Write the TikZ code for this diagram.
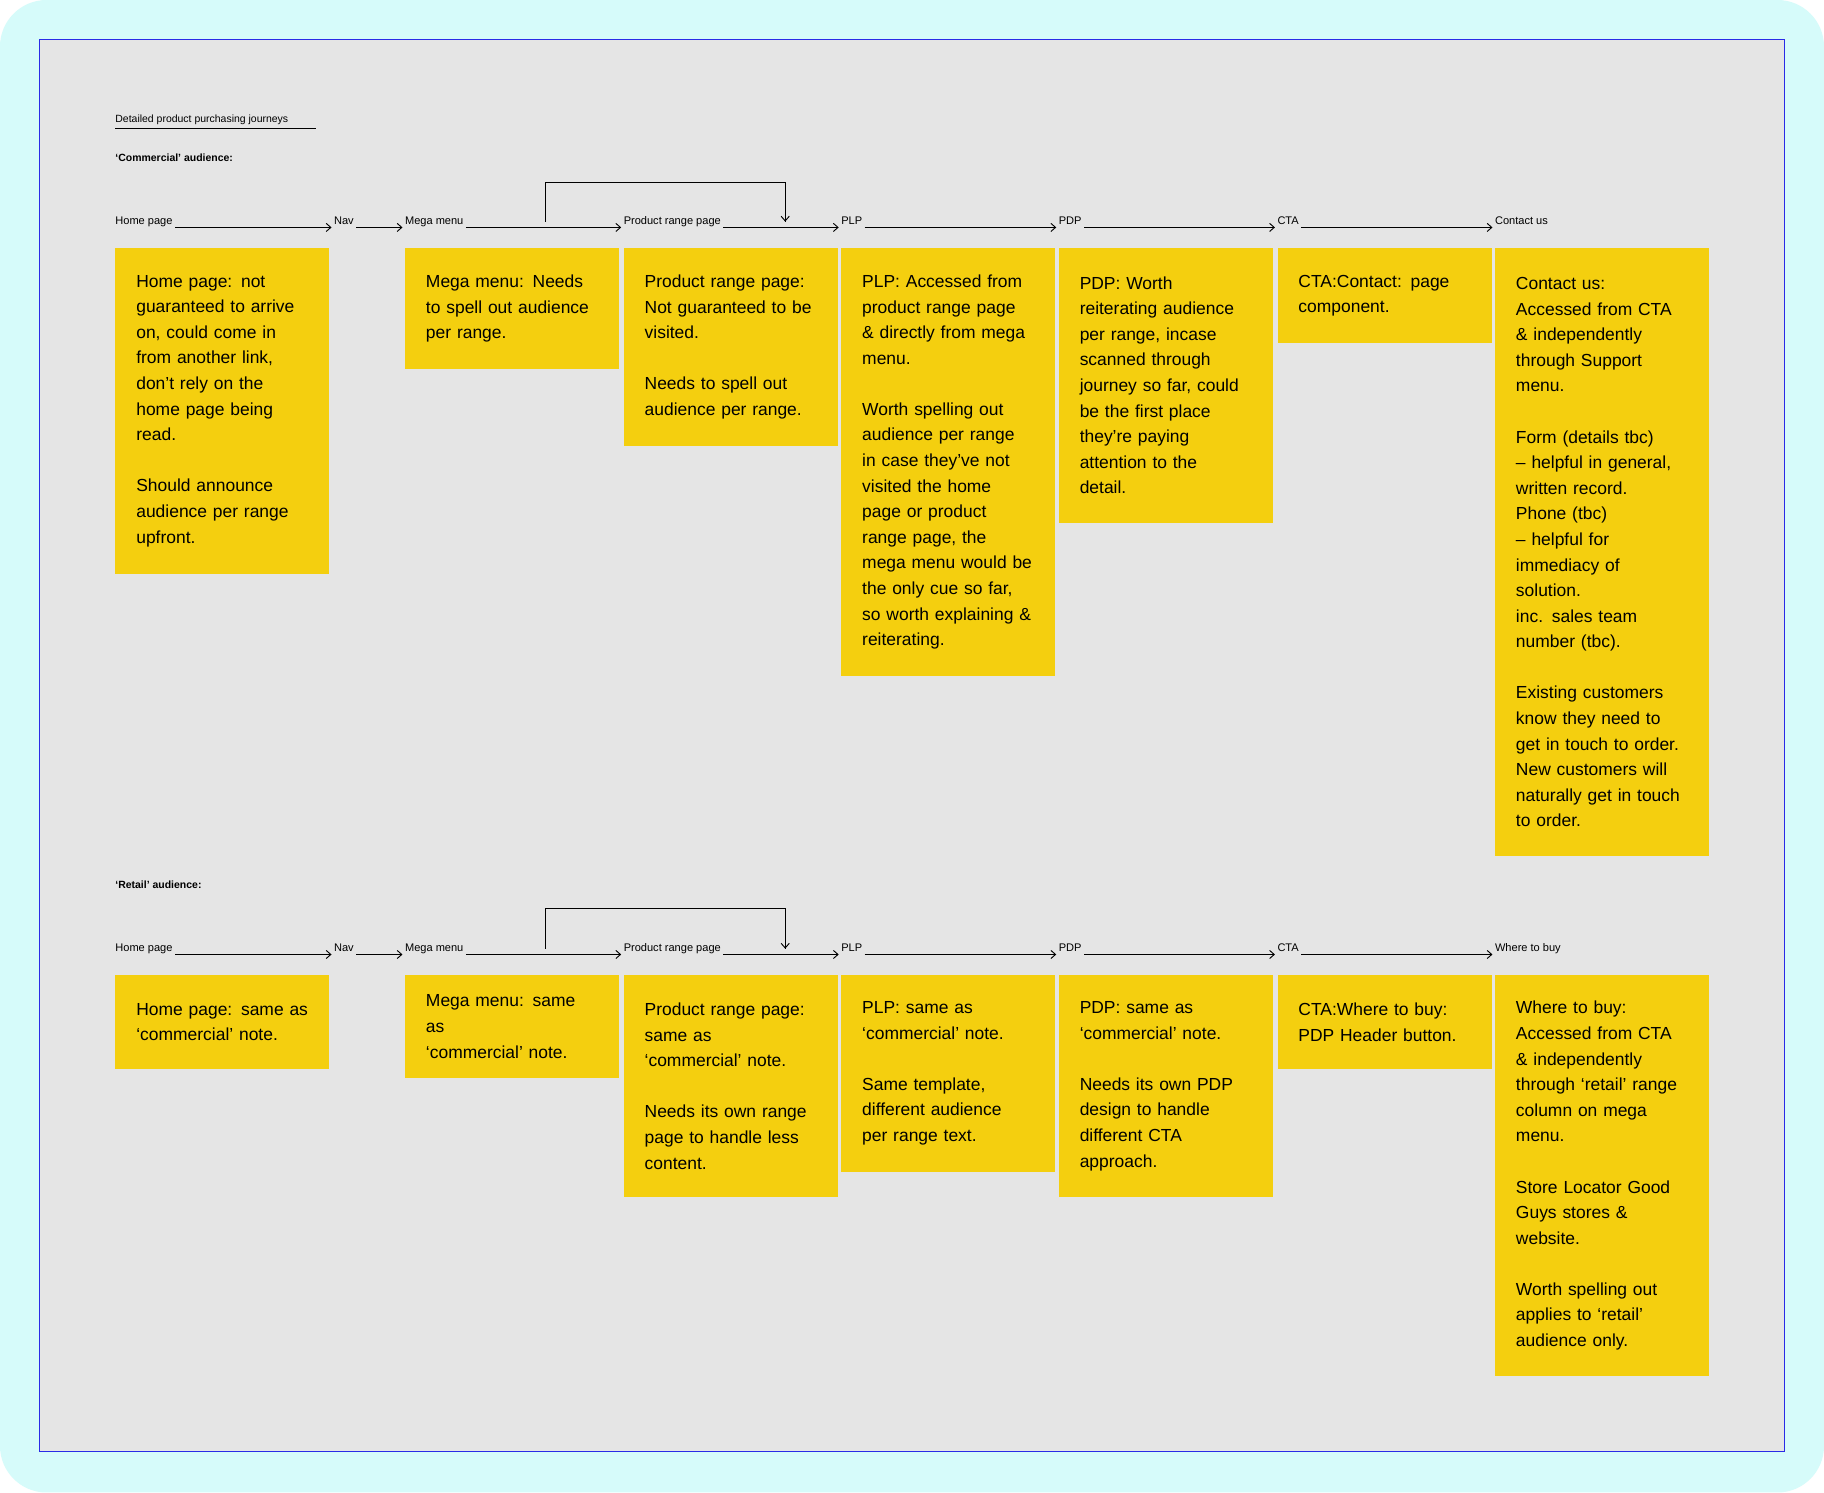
\documentclass[tikz,border=0pt]{standalone}
\usepackage{fontspec}
\setmainfont{Liberation Sans}
\usetikzlibrary{arrows.meta}
\definecolor{bgcyan}{HTML}{D6FBFA}
\definecolor{frame}{HTML}{2A2AE6}
\definecolor{canvas}{HTML}{E5E5E5}
\definecolor{sticky}{HTML}{F4CF0F}
\begin{document}
\begin{tikzpicture}[x=1pt,y=-1pt,
  lbl/.style={anchor=base west,inner sep=2pt,font=\fontsize{9.5}{11}\selectfont},
  note/.style={anchor=north west,fill=sticky,inner xsep=18pt,inner ysep=17pt,text width=148pt,align=left,font=\fontsize{15}{22}\selectfont},
  flow/.style={-{Straight Barb[length=4pt,width=7pt]},line width=0.8pt},
  loop/.style={line width=0.8pt}]
\useasboundingbox (0,0) rectangle (1568,1283);
\fill[white] (0,0) rectangle (1568,1283);
\fill[bgcyan] (0,0) [rounded corners=40pt] rectangle (1568,1283);
\draw[frame,fill=canvas,line width=1.2pt] (34,34) rectangle (1534,1248);
\node[lbl,font=\fontsize{9}{11}\selectfont] (title) at (97,105) {Detailed product purchasing journeys};
\draw[line width=0.6pt] (99,110) -- (272,110);
\node[lbl,font=\fontsize{9}{11}\bfseries] (comm) at (97,139) {‘Commercial’ audience:};
\node[lbl,font=\fontsize{9}{11}\bfseries] (ret) at (97,764) {‘Retail’ audience:};

% Row 1 labels
\foreach \n/\x/\t in {a1/97/Home page,a2/285/Nav,a3/346/Mega menu,a4/534/Product range page,a5/721/PLP,a6/908/PDP,a7/1096/CTA,a8/1283/Contact us}
  \node[lbl] (\n) at (\x,193) {\t};
\foreach \n/\x/\t in {b1/97/Home page,b2/285/Nav,b3/346/Mega menu,b4/534/Product range page,b5/721/PLP,b6/908/PDP,b7/1096/CTA,b8/1283/Where to buy}
  \node[lbl] (\n) at (\x,818) {\t};
\foreach \r in {a,b}{
  \foreach \i/\j in {1/2,2/3,3/4,4/5,5/6,6/7,7/8}
    \draw[flow] ([yshift=-2.5pt]\r\i.base east) -- ([yshift=-2.5pt]\r\j.base west);
}
\coordinate (la1) at (469,190.5); \coordinate (la2) at (675,190.5);
\draw[loop] (la1) -- (469,157) -| (la2);
\draw[flow] (675,175) -- (la2);
\coordinate (lb1) at (469,815.5); \coordinate (lb2) at (675,815.5);
\draw[loop] (lb1) -- (469,781) -| (lb2);
\draw[flow] (675,800) -- (lb2);

% Row 1 notes
\node[note,minimum height=280pt] (n1) at (99,213) {Home page: not\\guaranteed to arrive\\on, could come in\\from another link,\\don’t rely on the\\home page being\\read.\\[22pt]Should announce\\audience per range\\upfront.};
\node[note,minimum height=104pt] (n2) at (348,213) {Mega menu: Needs\\to spell out audience\\per range.};
\node[note,minimum height=170pt] (n3) at (536,213) {Product range page:\\Not guaranteed to be\\visited.\\[22pt]Needs to spell out\\audience per range.};
\node[note,minimum height=368pt] (n4) at (723,213) {PLP: Accessed from\\product range page\\\& directly from mega\\menu.\\[22pt]Worth spelling out\\audience per range\\in case they’ve not\\visited the home\\page or product\\range page, the\\mega menu would be\\the only cue so far,\\so worth explaining \&\\reiterating.};
\node[note,minimum height=236pt] (n5) at (910,213) {PDP: Worth\\reiterating audience\\per range, incase\\scanned through\\journey so far, could\\be the first place\\they’re paying\\attention to the\\detail.};
\node[note,minimum height=82pt] (n6) at (1098,213) {CTA:Contact: page\\component.};
\node[note,minimum height=523pt] (n7) at (1285,213) {Contact us:\\Accessed from CTA\\\& independently\\through Support\\menu.\\[22pt]Form (details tbc)\\– helpful in general,\\written record.\\Phone (tbc)\\– helpful for\\immediacy of\\solution.\\inc. sales team\\number (tbc).\\[22pt]Existing customers\\know they need to\\get in touch to order.\\New customers will\\naturally get in touch\\to order.};

% Row 2 notes
\node[note,minimum height=81pt] (m1) at (99,838) {Home page: same as\\‘commercial’ note.};
\node[note,minimum height=81pt] (m2) at (348,838) {Mega menu: same as\\‘commercial’ note.};
\node[note,minimum height=191pt] (m3) at (536,838) {Product range page:\\same as\\‘commercial’ note.\\[22pt]Needs its own range\\page to handle less\\content.};
\node[note,minimum height=169pt] (m4) at (723,838) {PLP: same as\\‘commercial’ note.\\[22pt]Same template,\\different audience\\per range text.};
\node[note,minimum height=191pt] (m5) at (910,838) {PDP: same as\\‘commercial’ note.\\[22pt]Needs its own PDP\\design to handle\\different CTA\\approach.};
\node[note,minimum height=81pt] (m6) at (1098,838) {CTA:Where to buy:\\PDP Header button.};
\node[note,minimum height=345pt] (m7) at (1285,838) {Where to buy:\\Accessed from CTA\\\& independently\\through ‘retail’ range\\column on mega\\menu.\\[22pt]Store Locator Good\\Guys stores \&\\website.\\[22pt]Worth spelling out\\applies to ‘retail’\\audience only.};
\end{tikzpicture}
\end{document}
